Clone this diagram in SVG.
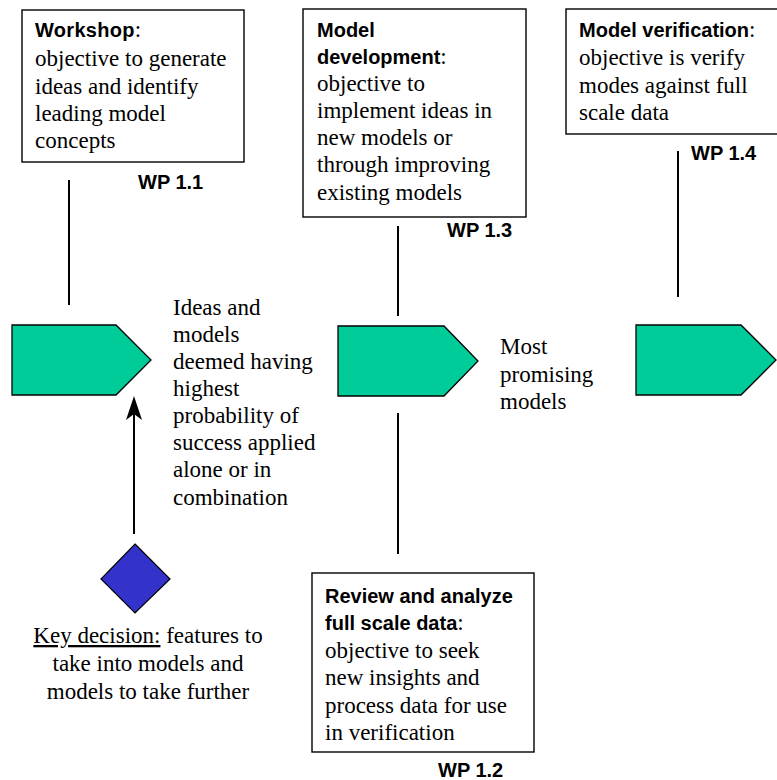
<svg xmlns="http://www.w3.org/2000/svg" width="777" height="780" viewBox="0 0 777 780">
<style>
.box{fill:#fff;stroke:#000;stroke-width:1.4}
.t{font-family:"Liberation Serif","Times New Roman",serif;font-size:23px;fill:#000}
.b{font-family:"Liberation Sans",Arial,sans-serif;font-size:20px;font-weight:bold;fill:#000}
.wp{font-family:"Liberation Sans",Arial,sans-serif;font-size:20px;font-weight:bold;fill:#000}
.pent{fill:#00CC99;stroke:#000;stroke-width:1.3}
.ln{stroke:#000;stroke-width:2;fill:none}
</style>
<defs>
<marker id="ah" markerWidth="16" markerHeight="24" viewBox="0 0 16 24" refX="8" refY="0" orient="auto-start-reverse" markerUnits="userSpaceOnUse">
<path d="M8,0 L16,23 L8,17 L0,23 Z" fill="#000"/>
</marker>
</defs>
<rect width="777" height="780" fill="#fff"/>

<g id="connectors">
<line class="ln" x1="69" y1="180" x2="69" y2="305"/>
<line class="ln" x1="398" y1="226" x2="398" y2="316"/>
<line class="ln" x1="398" y1="413" x2="398" y2="554"/>
<line class="ln" x1="678" y1="151" x2="678" y2="297"/>
<line class="ln" x1="134" y1="534" x2="134" y2="410"/>
<path d="M134,396 L142,420 L134,414 L126,420 Z" fill="#000"/>
</g>

<g id="workshop">
<rect class="box" x="22" y="10" width="222" height="152"/>
<text class="t" x="35" y="37"><tspan class="b" style="letter-spacing:0.3px">Workshop</tspan>:</text>
<text class="t" x="35" y="66">objective to generate</text>
<text class="t" x="35" y="94">ideas and identify</text>
<text class="t" x="35" y="121">leading model</text>
<text class="t" x="35" y="148">concepts</text>
<text class="wp" x="138" y="189">WP 1.1</text>
</g>

<g id="model-development">
<rect class="box" x="303" y="9" width="223" height="208"/>
<text class="b" x="317" y="37">Model</text>
<text class="t" x="317" y="64"><tspan class="b">development</tspan>:</text>
<text class="t" x="317" y="91">objective to</text>
<text class="t" x="317" y="118">implement ideas in</text>
<text class="t" x="317" y="145">new models or</text>
<text class="t" x="317" y="172">through improving</text>
<text class="t" x="317" y="200">existing models</text>
<text class="wp" x="447" y="237">WP 1.3</text>
</g>

<g id="model-verification">
<rect class="box" x="566" y="9" width="230" height="125"/>
<text class="t" x="579" y="37"><tspan class="b">Model verification</tspan>:</text>
<text class="t" x="579" y="65">objective is verify</text>
<text class="t" x="579" y="93">modes against full</text>
<text class="t" x="579" y="120">scale data</text>
<text class="wp" x="691" y="160">WP 1.4</text>
</g>

<g id="review">
<rect class="box" x="312" y="573" width="222" height="179"/>
<text class="b" x="325" y="603">Review and analyze</text>
<text class="t" x="325" y="630"><tspan class="b">full scale data</tspan>:</text>
<text class="t" x="325" y="658">objective to seek</text>
<text class="t" x="325" y="685">new insights and</text>
<text class="t" x="325" y="713">process data for use</text>
<text class="t" x="325" y="740">in verification</text>
<text class="wp" x="438" y="777">WP 1.2</text>
</g>

<g id="phase1">
<polygon class="pent" points="12,325 116,325 151,360 116,395 12,395"/>
</g>
<g id="phase2">
<polygon class="pent" points="338,326 444,326 478,361 444,396 338,396"/>
</g>
<g id="phase3">
<polygon class="pent" points="636,325 741,325 776,360 741,395 636,395"/>
</g>

<g id="ideas-label">
<text class="t" x="173" y="315">Ideas and</text>
<text class="t" x="173" y="342">models</text>
<text class="t" x="173" y="369">deemed having</text>
<text class="t" x="173" y="396">highest</text>
<text class="t" x="173" y="423">probability of</text>
<text class="t" x="173" y="450">success applied</text>
<text class="t" x="173" y="477">alone or in</text>
<text class="t" x="173" y="505">combination</text>
</g>

<g id="promising-label">
<text class="t" x="500" y="354">Most</text>
<text class="t" x="500" y="382">promising</text>
<text class="t" x="500" y="409">models</text>
</g>

<g id="key-decision">
<polygon points="135,544 170,579 135,613 101,579" fill="#3333CC" stroke="#000" stroke-width="1.2"/>
<text class="t" x="148" y="643" text-anchor="middle"><tspan text-decoration="underline">Key decision:</tspan> features to</text>
<text class="t" x="148" y="671" text-anchor="middle">take into models and</text>
<text class="t" x="148" y="699" text-anchor="middle">models to take further</text>
</g>
</svg>
